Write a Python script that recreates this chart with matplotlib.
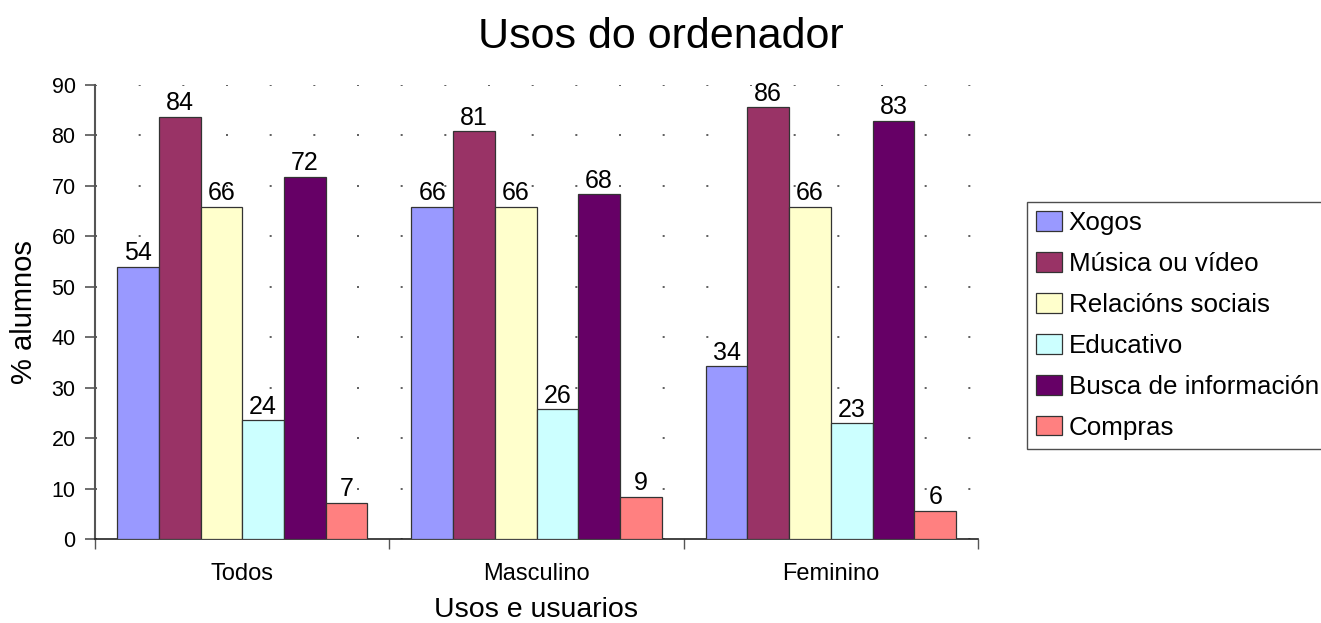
import matplotlib.pyplot as plt
import numpy as np

plt.rcParams['font.family'] = ['Liberation Sans', 'DejaVu Sans']

# Data
groups = ["Todos", "Masculino", "Feminino"]
series = ["Xogos", "Música ou vídeo", "Relacións sociais", "Educativo",
          "Busca de información", "Compras"]
colors = ["#9999FF", "#993366", "#FFFFCC", "#CCFFFF", "#660066", "#FF8080"]

# bar heights per series (Todos, Masculino, Feminino)
xogos = [54.0, 65.9, 34.3]
musica = [83.7, 80.8, 85.6]
relacions = [65.9, 65.9, 65.9]
educativo = [23.5, 25.7, 23.0]
busca = [71.8, 68.3, 82.9]
compras = [7.2, 8.4, 5.6]

# labels as printed on the chart
xogos_lbl = ["54", "66", "34"]
musica_lbl = ["84", "81", "86"]
relacions_lbl = ["66", "66", "66"]
educativo_lbl = ["24", "26", "23"]
busca_lbl = ["72", "68", "83"]
compras_lbl = ["7", "9", "6"]

values = [xogos, musica, relacions, educativo, busca, compras]
labels = [xogos_lbl, musica_lbl, relacions_lbl, educativo_lbl, busca_lbl, compras_lbl]

fig = plt.figure(figsize=(13.21, 6.23), dpi=100)
ax = fig.add_axes([0.0719, 0.1348, 0.6684, 0.7288])

bar_w = 0.1418
start = 0.075
x = np.arange(len(groups))
for i, (name, vals, lbls, c) in enumerate(zip(series, values, labels, colors)):
    bars = ax.bar(x + start + i * bar_w, vals, bar_w, align="edge",
                  color=c, edgecolor="#333333", linewidth=0.9, label=name, zorder=3)
    ax.bar_label(bars, labels=lbls, padding=1, fontsize=18, zorder=4)

ax.set_xlim(0, 3)
ax.set_ylim(0, 90)
ax.set_yticks(np.arange(0, 91, 10))
ax.tick_params(axis="y", labelsize=15.5, length=7, width=1.2, color="#555555", pad=7)

# group separators as major ticks, names as minor ticks
ax.set_xticks([0, 1, 2, 3])
ax.set_xticklabels([])
ax.set_xticks(x + 0.5, minor=True)
ax.set_xticklabels(groups, minor=True)
ax.tick_params(axis="x", which="major", length=7, width=1, color="#555555")
ax.tick_params(axis="x", which="minor", length=0, labelsize=17, pad=17)

ax.grid(axis="y", linestyle=(0, (1.2, 25)), color="#444444", linewidth=1.2, zorder=0)

for s in ["top", "right"]:
    ax.spines[s].set_visible(False)
ax.spines["left"].set_color("#555555")
ax.spines["left"].set_linewidth(1.5)
ax.spines["bottom"].set_color("#222222")
ax.spines["bottom"].set_linewidth(1.2)

fig.text(0.5, 0.94, "Usos do ordenador", ha="center", va="center", fontsize=31)
ax.set_xlabel("Usos e usuarios", fontsize=20.5, labelpad=9)
ax.set_ylabel("% alumnos", fontsize=21, labelpad=10)

leg = ax.legend(loc="upper left", bbox_to_anchor=(1027 / 1321, 1 - 202 / 623),
                bbox_transform=fig.transFigure, fontsize=18.7, frameon=True,
                fancybox=False, shadow=False, borderpad=0.35, labelspacing=0.65,
                handlelength=1.0, handleheight=0.8, handletextpad=0.25,
                borderaxespad=0)
leg.get_frame().set_edgecolor("#222222")
leg.get_frame().set_linewidth(1.0)

fig.savefig("out.png", dpi=100)
